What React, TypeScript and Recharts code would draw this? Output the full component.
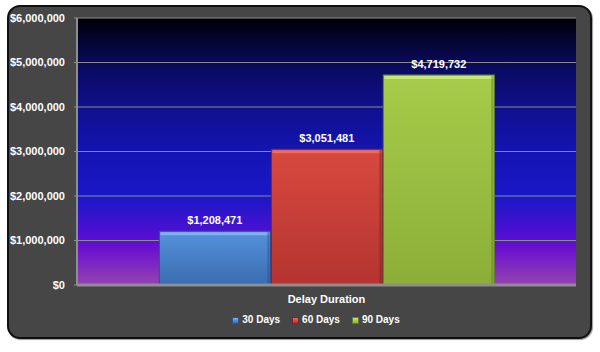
import React from "react";
import {
  BarChart,
  Bar,
  XAxis,
  YAxis,
  CartesianGrid,
  Legend,
  LabelList,
} from "recharts";

const categories = ["Delay Duration"];
const days30 = [1208471];
const days60 = [3051481];
const days90 = [4719732];
const yTicks = [0, 1000000, 2000000, 3000000, 4000000, 5000000, 6000000];

const SERIES = [
  { key: "d30", name: "30 Days", top: "#5592dc", bottom: "#3a6cb0", light: "#7fb2ee", dark: "#2a5290" },
  { key: "d60", name: "60 Days", top: "#d8493f", bottom: "#b43430", light: "#ec6a60", dark: "#7e2422" },
  { key: "d90", name: "90 Days", top: "#a6cc4a", bottom: "#8cae38", light: "#c6ea70", dark: "#62802a" },
];

const data = categories.map((c, i) => ({
  name: c,
  d30: days30[i],
  d60: days60[i],
  d90: days90[i],
}));

const FONT = "'Liberation Sans Narrow', 'Liberation Sans', Arial, sans-serif";

const money = (v: number) => "$" + v.toLocaleString("en-US");

function makeShape(s: (typeof SERIES)[number]) {
  return (props: any) => {
    const { x, y, width, height } = props;
    if (!height || height <= 0) return null;
    return (
      <g>
        <rect x={x} y={y} width={width} height={height} fill={`url(#grad-${s.key})`} stroke={s.dark} strokeWidth={1} />
        <rect x={x + 1} y={y + 1} width={width - 2} height={3} fill={s.light} />
        <rect x={x + width - 3} y={y + 1} width={2} height={height - 2} fill={s.dark} opacity={0.5} />
      </g>
    );
  };
}

function LegendContent() {
  return (
    <div style={{ display: "flex", justifyContent: "center", gap: 12, fontFamily: FONT, fontSize: 10, fontWeight: "bold", color: "#fff", height: 20, lineHeight: "20px" }}>
      {SERIES.map((s) => (
        <span key={s.key} style={{ display: "flex", alignItems: "center" }}>
          <span
            style={{
              width: 5,
              height: 5,
              marginRight: 3,
              background: `linear-gradient(${s.light}, ${s.bottom})`,
              border: `1px solid ${s.dark}`,
            }}
          />
          {s.name}
        </span>
      ))}
    </div>
  );
}

export default function App() {
  return (
    <div style={{ position: "absolute", left: 0, top: 0, width: 600, height: 352, background: "#fff" }}>
      <div
        style={{
          position: "absolute",
          left: 7,
          top: 5,
          width: 581,
          height: 330,
          background: "#464646",
          border: "2px solid #111",
          borderRadius: 13,
          boxShadow: "1px 1px 1px #999",
        }}
      />
      <div style={{ position: "absolute", left: 0, top: 0 }}>
        <BarChart
          width={600}
          height={352}
          data={data}
          margin={{ top: 18, right: 24, left: 7, bottom: 0 }}
          barCategoryGap="16.5%"
          barGap={1}
        >
          <defs>
            <linearGradient id="plotBg" x1="0" y1="0" x2="0" y2="1">
              <stop offset="0" stopColor="#000005" />
              <stop offset="0.165" stopColor="#09095a" />
              <stop offset="0.33" stopColor="#10108c" />
              <stop offset="0.5" stopColor="#1414b2" />
              <stop offset="0.67" stopColor="#1a18c8" />
              <stop offset="0.8" stopColor="#4c10d2" />
              <stop offset="0.86" stopColor="#6a10d0" />
              <stop offset="1" stopColor="#9444ae" />
            </linearGradient>
            {SERIES.map((s) => (
              <linearGradient key={s.key} id={`grad-${s.key}`} x1="0" y1="0" x2="0" y2="1">
                <stop offset="0" stopColor={s.top} />
                <stop offset="1" stopColor={s.bottom} />
              </linearGradient>
            ))}
          </defs>
          <CartesianGrid vertical={false} horizontal fill="url(#plotBg)" fillOpacity={1} stroke="#8c8c8c" strokeWidth={1} />
          <XAxis
            dataKey="name"
            height={47}
            axisLine={{ stroke: "#8e8e8e", strokeWidth: 3 }}
            tickLine={false}
            tickMargin={4}
            tick={{ fill: "#ffffff", fontSize: 11, fontWeight: "bold", fontFamily: FONT }}
          />
          <YAxis
            width={70}
            domain={[0, 6000000]}
            ticks={yTicks}
            interval={0}
            tickFormatter={money}
            axisLine={{ stroke: "#8e8e8e", strokeWidth: 2 }}
            tickLine={{ stroke: "#8e8e8e" }}
            tickSize={3}
            tickMargin={9}
            tick={{ fill: "#ffffff", fontSize: 11, fontWeight: "bold", fontFamily: FONT }}
          />
          <Legend content={<LegendContent />} wrapperStyle={{ top: 310, left: 16, width: 600, height: 20 }} />
          {SERIES.map((s) => (
            <Bar key={s.key} dataKey={s.key} name={s.name} shape={makeShape(s)} isAnimationActive={false}>
              <LabelList
                dataKey={s.key}
                position="top"
                offset={7}
                formatter={(v: any) => money(Number(v))}
                fill="#ffffff"
                style={{ fontSize: 11, fontWeight: "bold", fontFamily: FONT }}
              />
            </Bar>
          ))}
        </BarChart>
      </div>
    </div>
  );
}
